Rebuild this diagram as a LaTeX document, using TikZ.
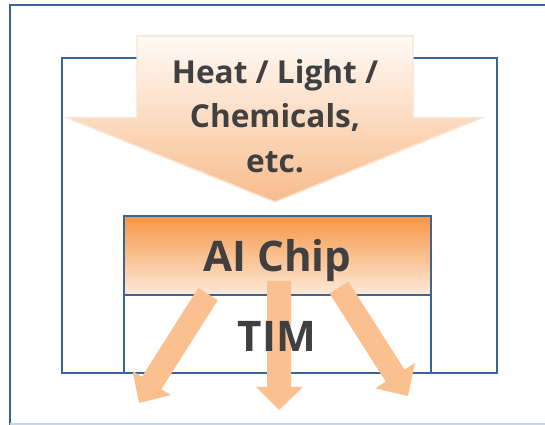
\documentclass[tikz,border=0pt]{standalone}
\usepackage{fontspec}
\setmainfont{Open Sans}
\usetikzlibrary{positioning}
\definecolor{frameblue}{HTML}{3D6497}
\definecolor{paleline}{HTML}{C9D6E6}
\definecolor{peach}{HTML}{FAC090}
\definecolor{arrowtop}{HTML}{FFFAF6}
\definecolor{arrowmid}{HTML}{FEEEE2}
\definecolor{arrowbot}{HTML}{F8BC8C}
\definecolor{arrowrim}{HTML}{FBE3CF}
\definecolor{chiporange}{HTML}{F79646}
\definecolor{chiplight}{HTML}{FDEADA}
\definecolor{textgray}{HTML}{404040}
\tikzset{
  frameline/.style={draw=frameblue, line width=1.5pt},
  layerbox/.style={rectangle, draw=frameblue, line width=1.5pt,
    minimum width=6.14cm, inner sep=0pt, outer sep=0pt},
  heatflow/.style={fill=peach, draw=none},
  sourcetext/.style={font=\bfseries\fontsize{18}{25.2}\selectfont,
    text=textgray, align=center},
  layertext/.style={font=\bfseries\fontsize{24}{28}\selectfont, text=textgray},
}

\begin{document}
\begin{tikzpicture}[x=0.02cm, y=-0.02cm]
  \useasboundingbox (0,0) rectangle (545,425);

  % ---- Cadres ----
  \draw[frameline] (545,5) -- (10,5) -- (10,425);
  \draw[draw=paleline, line width=1pt] (10,424) -- (545,424);
  \draw[frameline] (62,58) rectangle (497,373);

  % ---- Grande fleche : sources externes ----
  \path[draw=arrowrim, line width=0.85pt, top color=arrowtop,
        middle color=arrowmid, bottom color=arrowbot]
    (137,36) -- (413,36) -- (413,118) -- (481,118) -- (275,202)
    -- (68,118) -- (137,118) -- cycle;
  \node[sourcetext] (source) at (275,116) {Heat / Light /\\Chemicals,\\etc.};

  % ---- Puce et TIM ----
  \node[layerbox, minimum height=1.58cm, top color=chiporange,
        bottom color=chiplight] (chip) at (277.5,255.5) {};
  \node[layerbox, minimum height=1.56cm, fill=white, below=0pt of chip] (tim) {};

  % ---- Fleches de chaleur ----
  \fill[heatflow] (217.7,300.2) -- (161.4,389.2) -- (170.8,395.1) -- (139,403)
    -- (132.6,370.9) -- (142,376.8) -- (198.3,287.8) -- cycle;
  \fill[heatflow] (267,281) -- (291,281) -- (291,387) -- (303,387) -- (279,410)
    -- (256,387) -- (267,387) -- cycle;
  \fill[heatflow] (348.4,281.5) -- (404.5,369.6) -- (415,362.9) -- (408,396)
    -- (375.2,388.3) -- (385.7,381.6) -- (329.6,293.5) -- cycle;

  \node[layertext, anchor=base] (chiplabel) at (277.5,272) {AI Chip};
  \node[layertext, anchor=base] (timlabel) at (277,352) {TIM};
\end{tikzpicture}
\end{document}
